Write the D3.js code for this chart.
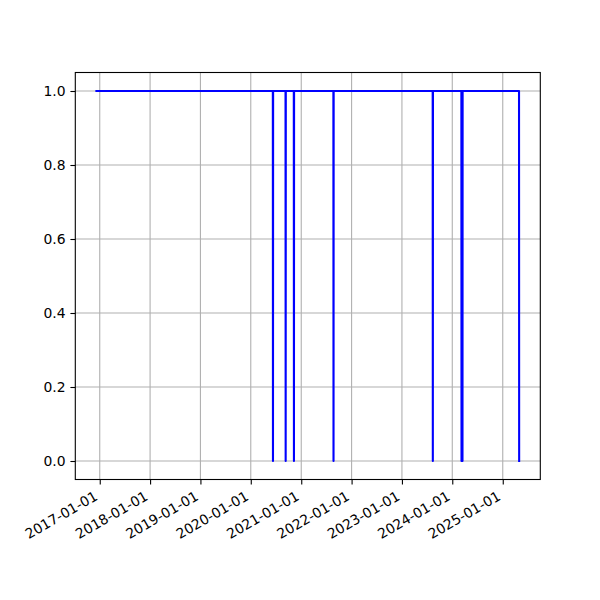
<!DOCTYPE html>
<html>
<head>
<meta charset="utf-8">
<script src="https://cdn.jsdelivr.net/npm/d3@7"></script>
<style>
html,body{margin:0;padding:0;background:#fff;}
svg{display:block;font-family:"DejaVu Sans",sans-serif;}
</style>
</head>
<body>
<svg id="chart" width="600" height="600"></svg>
<script>
// ---- data ----
const dates = ["2016-12-08",
  "2020-06-09","2020-06-10","2020-06-11",
  "2020-09-09","2020-09-10","2020-09-11",
  "2020-11-08","2020-11-09","2020-11-10",
  "2021-08-22","2021-08-23","2021-08-24",
  "2023-08-12","2023-08-13","2023-08-14",
  "2024-03-07","2024-03-08","2024-03-09",
  "2024-03-14","2024-03-15","2024-03-16",
  "2025-04-29","2025-04-30"];
const values = [1,
  1,0,1,
  1,0,1,
  1,0,1,
  1,0,1,
  1,0,1,
  1,0,1,
  1,0,1,
  1,0];
const xTickLabels = ["2017-01-01","2018-01-01","2019-01-01","2020-01-01","2021-01-01","2022-01-01","2023-01-01","2024-01-01","2025-01-01"];
const yTicks = [0.0,0.2,0.4,0.6,0.8,1.0];

// ---- layout ----
const svg = d3.select("#chart");
const L = 75.3, R = 540.3, T = 72.5, B = 479.5;
const parse = d3.utcParse("%Y-%m-%d");
const pts = dates.map((d,i)=>({x:parse(d), y:values[i]}));

const xExt = d3.extent(pts, d=>d.x);
const span = xExt[1]-xExt[0];
const x = d3.scaleUtc()
  .domain([new Date(+xExt[0]-0.05*span), new Date(+xExt[1]+0.05*span)])
  .range([L,R]);
const y = d3.scaleLinear().domain([-0.05,1.05]).range([B,T]);

const fs = 13.9;
const xt = xTickLabels.map(parse);

// grid
const g = svg.append("g");
g.selectAll("line.gx").data(xt).enter().append("line")
  .attr("x1",d=>x(d)).attr("x2",d=>x(d)).attr("y1",T).attr("y2",B)
  .attr("stroke","#b0b0b0").attr("stroke-width",1.1);
g.selectAll("line.gy").data(yTicks).enter().append("line")
  .attr("x1",L).attr("x2",R).attr("y1",d=>y(d)).attr("y2",d=>y(d))
  .attr("stroke","#b0b0b0").attr("stroke-width",1.1);

// line
const line = d3.line().x(d=>x(d.x)).y(d=>y(d.y));
svg.append("path").datum(pts).attr("d",line)
  .attr("fill","none").attr("stroke","#0000ff").attr("stroke-width",2.1)
  .attr("stroke-linejoin","round").attr("stroke-linecap","square");

// axes
const xAxis = d3.axisBottom(x).tickValues(xt).tickSize(4.9).tickPadding(4.9)
  .tickFormat(d3.utcFormat("%Y-%m-%d"));
const gx = svg.append("g").attr("transform",`translate(0,${B})`).call(xAxis);
gx.select(".domain").remove();
gx.selectAll(".tick line").attr("stroke","#000").attr("stroke-width",1.1);
gx.selectAll(".tick text")
  .attr("font-size",fs).attr("font-family","DejaVu Sans").attr("fill","#000")
  .attr("text-anchor","end").attr("dy",null).attr("y",null)
  .attr("transform","translate(-1.6,19.5) rotate(-30)");

const yAxis = d3.axisLeft(y).tickValues(yTicks).tickSize(4.9).tickPadding(4.9)
  .tickFormat(d3.format(".1f"));
const gy = svg.append("g").attr("transform",`translate(${L},0)`).call(yAxis);
gy.select(".domain").remove();
gy.selectAll(".tick line").attr("stroke","#000").attr("stroke-width",1.1);
gy.selectAll(".tick text").attr("font-size",fs).attr("font-family","DejaVu Sans").attr("fill","#000");

// spines
svg.append("rect").attr("x",L).attr("y",T).attr("width",R-L).attr("height",B-T)
  .attr("fill","none").attr("stroke","#000").attr("stroke-width",1.1);
</script>
</body>
</html>
